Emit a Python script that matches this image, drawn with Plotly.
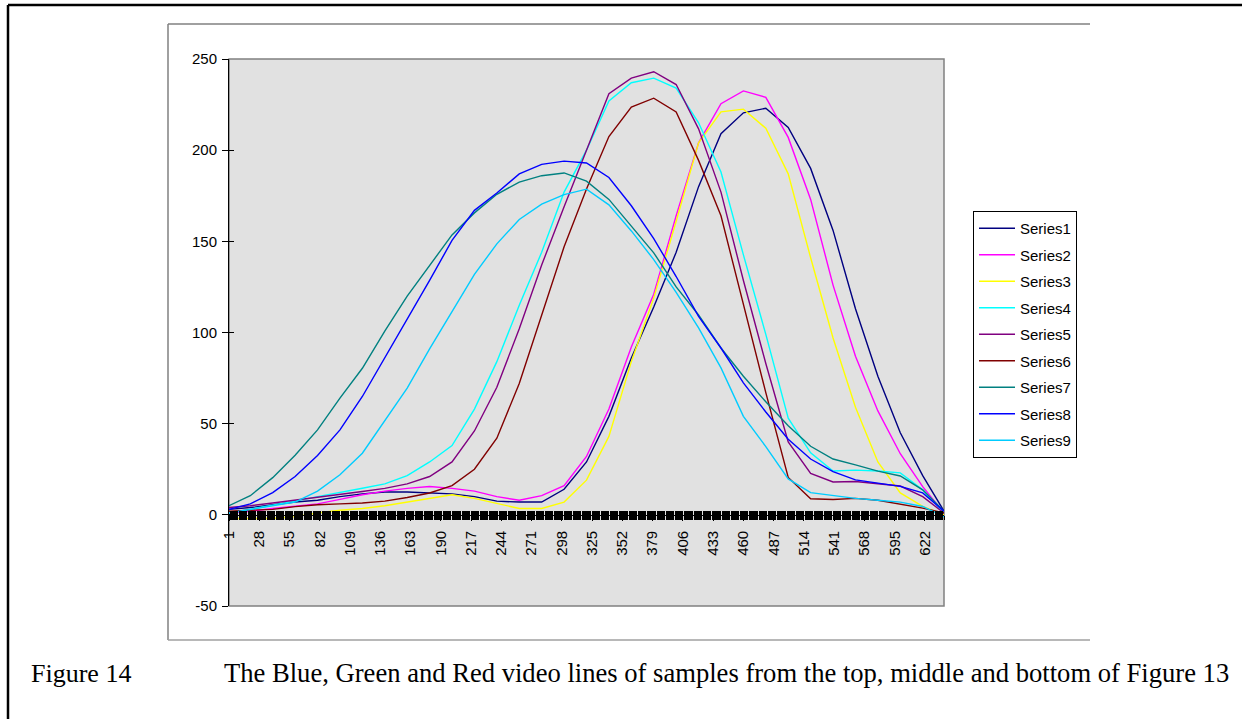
import plotly.graph_objects as go

# ---------------- data ----------------
categories = [1, 20, 40, 60, 80, 100, 120, 140, 160, 180, 200, 220, 240, 260, 280, 300,
              320, 340, 360, 380, 400, 420, 440, 460, 480, 500, 520, 540, 560, 580, 600, 620, 639]

series1 = [3, 4, 5.5, 7, 8, 10, 11.5, 12.5, 12.5, 12, 11.5, 10, 7.5, 7, 7, 14,
           29, 54, 86, 114, 144, 180, 209, 220.5, 223, 212.5, 190, 156, 113, 76, 45, 21.5, 2]
series2 = [1, 2, 3.5, 4.6, 6, 8.5, 11, 13, 14.5, 15.5, 14.5, 13, 10, 8, 10.5, 16,
           32, 58, 92, 121, 164, 204, 225.5, 232.5, 229, 207, 173, 126, 87, 57, 33.5, 15.5, 1]
series3 = [-2, -2, -2, -1, 1, 2.5, 3.5, 5, 7, 9, 11, 9, 6.4, 3.5, 3.5, 7,
           19, 43, 84, 119, 161, 204, 221, 222.5, 212, 187, 141, 97, 59, 29, 12, 4.6, 0]
series4 = [1, 3, 5, 7.5, 10, 12.5, 14.6, 17, 21.5, 29, 38, 58, 84, 115, 144, 177,
           200, 227, 237, 239.5, 234, 215, 188, 142.6, 99, 53, 34, 24, 24.5, 24, 23, 13.7, 1]
series5 = [4, 5, 6.5, 8, 9.5, 11, 12.8, 14.5, 17, 21, 29, 46, 70, 102, 137, 169,
           200, 231, 239.5, 243, 236, 211.7, 177, 128.5, 83, 40, 22.7, 18, 18.3, 17.2, 15.8, 10, 1]
series6 = [2, 2.5, 3, 4.5, 5.5, 6, 6.5, 7.5, 9.5, 12, 16, 25, 42, 72, 110, 147,
           178.7, 207.5, 223.6, 228.5, 221, 194.4, 164, 115, 67, 20.5, 8.8, 8.4, 9, 8, 6, 3.7, 1]
series7 = [5, 10.5, 20.4, 32.7, 46.6, 64, 80.4, 100.7, 120, 137, 153.5, 165.6, 175.8, 182.5, 186, 187.5,
           183, 173, 158.5, 143.7, 125, 109.6, 91.5, 76, 62, 48.8, 37.6, 30.6, 27.4, 24, 21.3, 13.7, 2]
series8 = [3, 6, 12.2, 21, 32.5, 46.6, 64.9, 86, 107, 128.6, 150.5, 167, 176.5, 187, 192.2, 194,
           193, 185, 169.5, 151.5, 130.7, 108.8, 91.5, 72.4, 56.4, 41.5, 30.6, 23.7, 19.2, 17.4, 15.6, 12, 2]
series9 = [1, 3, 5, 7, 13, 22, 33.8, 51.5, 69.5, 91, 111.6, 131.9, 148.6, 162, 170.4, 175.6,
           178.6, 170, 155.7, 140, 122, 102.5, 80.6, 54, 37.4, 19.7, 12.2, 10.5, 9, 8, 7, 4.6, -1]

series_names = ["Series1", "Series2", "Series3", "Series4", "Series5",
                "Series6", "Series7", "Series8", "Series9"]
series_values = [series1, series2, series3, series4, series5,
                 series6, series7, series8, series9]
series_colors = ["#000080", "#FF00FF", "#FFFF00", "#00FFFF", "#800080",
                 "#800000", "#008080", "#0000FF", "#00CCFF"]

x_tick_values = [1, 28, 55, 82, 109, 136, 163, 190, 217, 244, 271, 298, 325, 352,
                 379, 406, 433, 460, 487, 514, 541, 568, 595, 622]
y_tick_values = [-50, 0, 50, 100, 150, 200, 250]
y_tick_labels = ["-50", "0", "50", "100", "150", "200", "250"]
n_categories = 639

caption_label = "Figure 14"
caption_text = "The Blue, Green and Red video lines of samples from the top, middle and bottom of Figure 13"

# ---------------- layout geometry ----------------
W, H = 1242, 719
L, R, T, B = 229, 298, 59, 113
PW, PH = W - L - R, H - T - B
Y_MIN, Y_MAX = -50, 250


def fx(px):
    return (px - L) / PW


def fy(py):
    return (H - B - py) / PH


axis_pos = (0 - Y_MIN) / (Y_MAX - Y_MIN)

fig = go.Figure()
for name, vals, col in zip(series_names, series_values, series_colors):
    fig.add_trace(go.Scatter(x=categories, y=vals, mode="lines", name=name,
                             legendgroup=name,
                             line=dict(color=col, width=1.4)))

# helper (empty) traces so the overlay tick axes exist
fig.add_trace(go.Scatter(x=[], y=[], xaxis="x2", yaxis="y", showlegend=False, hoverinfo="skip"))
fig.add_trace(go.Scatter(x=[], y=[], xaxis="x3", yaxis="y", showlegend=False, hoverinfo="skip"))
fig.add_trace(go.Scatter(x=[], y=[], xaxis="x", yaxis="y2", showlegend=False, hoverinfo="skip"))

font_sans = "Arial, Liberation Sans, sans-serif"
font_serif = "Times New Roman, Liberation Serif, serif"

common_x = dict(range=[1, n_categories], showgrid=False, zeroline=False,
                anchor="free", position=axis_pos)

fig.update_layout(
    width=W, height=H,
    margin=dict(l=L, r=R, t=T, b=B, pad=0),
    paper_bgcolor="white",
    plot_bgcolor="#E1E1E1",
    font=dict(family=font_sans, size=15, color="black"),
    xaxis=dict(**common_x, tickmode="array", tickvals=x_tick_values,
               ticktext=[str(v) for v in x_tick_values], tickangle=-90,
               ticks="outside", ticklen=5, tickcolor="black", tickwidth=1,
               ticklabelstandoff=4,
               showline=True, linecolor="black", linewidth=1,
               tickfont=dict(family=font_sans, size=15, color="black")),
    xaxis2=dict(**common_x, overlaying="x", tickmode="linear", tick0=1, dtick=1,
                ticks="outside", ticklen=4, tickcolor="black", tickwidth=1,
                showticklabels=False, showline=False),
    xaxis3=dict(**common_x, overlaying="x", tickmode="linear", tick0=1, dtick=1,
                ticks="inside", ticklen=4, tickcolor="black", tickwidth=1,
                showticklabels=False, showline=False),
    yaxis=dict(range=[Y_MIN, Y_MAX], tickmode="array", tickvals=y_tick_values,
               ticktext=y_tick_labels,
               ticks="outside", ticklen=6, tickcolor="black", tickwidth=1,
               showgrid=False, zeroline=False, showline=True, linecolor="black",
               linewidth=1, ticklabelstandoff=2,
               tickfont=dict(family=font_sans, size=15, color="black")),
    yaxis2=dict(range=[Y_MIN, Y_MAX], overlaying="y", anchor="x", side="left",
                tickmode="array", tickvals=y_tick_values,
                ticks="inside", ticklen=5, tickcolor="black", tickwidth=1,
                showticklabels=False, showgrid=False, zeroline=False, showline=False),
    legend=dict(x=fx(973), y=fy(211), xanchor="left", yanchor="top",
                bgcolor="white", bordercolor="black", borderwidth=1,
                font=dict(family=font_sans, size=15, color="black"),
                tracegroupgap=4, itemwidth=36, traceorder="grouped"),
    showlegend=True,
)

shapes = [
    # plot-area frame (grey)
    dict(type="rect", xref="paper", yref="paper", x0=0, y0=0, x1=1, y1=1,
         line=dict(color="#808080", width=1.5), layer="below"),
    # chart-area frame (grey, three sides)
    dict(type="line", xref="paper", yref="paper", x0=fx(168), y0=fy(24), x1=fx(1090), y1=fy(24),
         line=dict(color="#808080", width=1.5)),
    dict(type="line", xref="paper", yref="paper", x0=fx(168), y0=fy(24), x1=fx(168), y1=fy(640),
         line=dict(color="#808080", width=1.5)),
    dict(type="line", xref="paper", yref="paper", x0=fx(168), y0=fy(640), x1=fx(1090), y1=fy(640),
         line=dict(color="#A0A0A0", width=1.5)),
    # outer page frame (black)
    dict(type="line", xref="paper", yref="paper", x0=fx(8), y0=fy(5), x1=fx(1250), y1=fy(5),
         line=dict(color="black", width=2.5)),
    dict(type="line", xref="paper", yref="paper", x0=fx(8), y0=fy(5), x1=fx(8), y1=fy(730),
         line=dict(color="black", width=2.5)),
]
fig.update_layout(shapes=shapes)

fig.add_annotation(text=caption_label, xref="paper", yref="paper", x=fx(29), y=fy(673),
                   xanchor="left", yanchor="middle", showarrow=False,
                   font=dict(family=font_serif, size=26, color="black"))
fig.add_annotation(text=caption_text, xref="paper", yref="paper", x=fx(222), y=fy(673),
                   xanchor="left", yanchor="middle", showarrow=False,
                   font=dict(family=font_serif, size=26.6, color="black"))

fig.write_html("out.html")
